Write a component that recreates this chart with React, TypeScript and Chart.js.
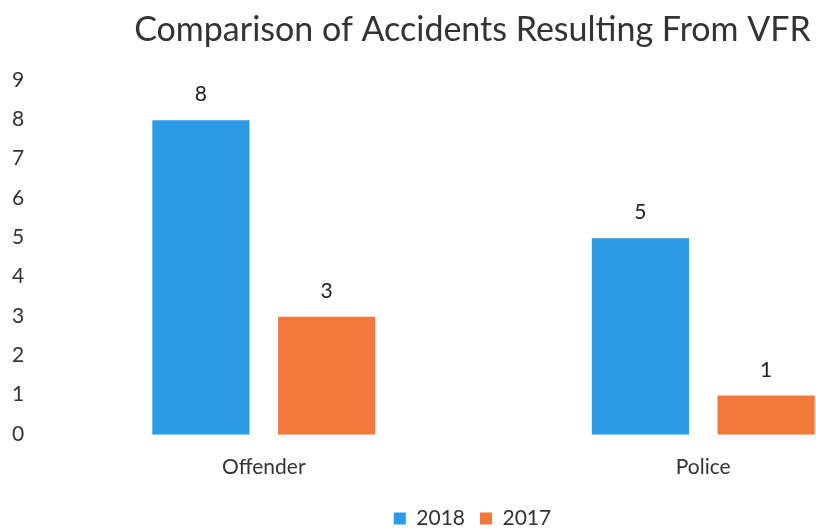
import React, { useEffect, useRef } from "react";
import { Chart, registerables } from "chart.js";

Chart.register(...registerables);

const categories = ["Offender", "Police"];
const series2018 = [8, 5];
const series2017 = [3, 1];
const yTicks = [0, 1, 2, 3, 4, 5, 6, 7, 8, 9];
const titleText = "Comparison of Accidents Resulting From VFR";

const FONT = "Lato, 'Open Sans', sans-serif";

const valueLabels = {
  id: "valueLabels",
  afterDatasetsDraw(chart: any) {
    const ctx = chart.ctx;
    ctx.save();
    ctx.fillStyle = "#222";
    ctx.font = `21px ${FONT}`;
    ctx.textAlign = "center";
    ctx.textBaseline = "bottom";
    chart.data.datasets.forEach((ds: any, i: number) => {
      const meta = chart.getDatasetMeta(i);
      meta.data.forEach((bar: any, j: number) => {
        ctx.fillText(String(ds.data[j]), bar.x, bar.y - 15);
      });
    });
    // y-axis tick labels through the y scale
    const y = chart.scales.y;
    ctx.fillStyle = "#333";
    ctx.textAlign = "center";
    ctx.textBaseline = "middle";
    yTicks.forEach((v) => {
      ctx.fillText(String(v), chart.chartArea.left - 26, y.getPixelForValue(v) - 1);
    });
    ctx.restore();
  },
};

export default function App() {
  const ref = useRef<HTMLCanvasElement>(null);
  useEffect(() => {
    if (!ref.current) return;
    const chart = new Chart(ref.current, {
      type: "bar",
      data: {
        labels: categories,
        datasets: [
          {
            label: "2018",
            data: series2018,
            backgroundColor: "#2b9be6",
            categoryPercentage: 0.572,
            barPercentage: 0.773,
          },
          {
            label: "2017",
            data: series2017,
            backgroundColor: "#f2793b",
            categoryPercentage: 0.572,
            barPercentage: 0.773,
          },
        ],
      },
      options: {
        animation: false,
        responsive: false,
        maintainAspectRatio: false,
        layout: { padding: { left: 22, right: 27, top: 10, bottom: -8 } },
        plugins: {
          title: {
            display: true,
            text: titleText,
            color: "#333",
            font: { family: FONT, size: 34, weight: "normal" },
            padding: { top: 0, bottom: 30 },
          },
          legend: {
            position: "bottom",
            labels: {
              color: "#333",
              font: { family: FONT, size: 21 },
              boxWidth: 12,
              boxHeight: 12,
              padding: 15,
            },
          },
          tooltip: { enabled: false },
        },
        scales: {
          x: {
            afterFit: (axis: any) => {
              axis.height = axis.height - 7;
            },
            grid: { display: false, drawTicks: false },
            border: { display: false },
            ticks: { color: "#333", font: { family: FONT, size: 21 }, padding: 20 },
          },
          y: {
            min: 0,
            max: 9,
            afterBuildTicks: (axis: any) => {
              axis.ticks = yTicks.map((v) => ({ value: v }));
            },
            afterFit: (axis: any) => {
              axis.width = 22;
            },
            grid: { display: false, drawTicks: false },
            border: { display: false },
            ticks: { display: false },
          },
        },
      },
      plugins: [valueLabels],
    });
    return () => chart.destroy();
  }, []);
  return (
    <div style={{ position: "fixed", left: 0, top: 0, width: 816, height: 531, overflow: "hidden", background: "#fff" }}>
      <canvas ref={ref} width={950} height={531} style={{ width: 950, height: 531, display: "block" }} />
    </div>
  );
}
